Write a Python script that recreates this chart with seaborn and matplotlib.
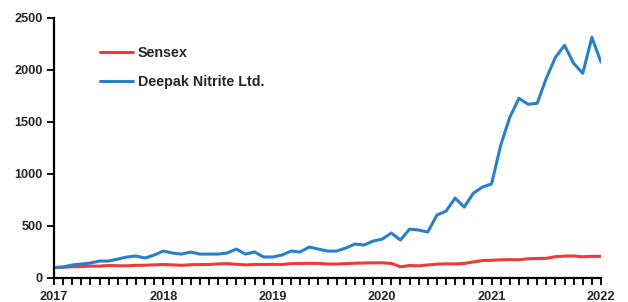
import numpy as np
import pandas as pd
import seaborn as sns
import matplotlib.pyplot as plt
from matplotlib.ticker import MultipleLocator

# monthly values, Jan 2017 .. Jan 2022 (rebased to 100)
sensex = [100, 104, 108, 110, 114, 114, 120, 118, 117, 122, 123, 126,
          130, 126, 122, 128, 129, 130, 135, 138, 132, 126, 130, 130,
          131, 130, 138, 139, 141, 140, 135, 134, 138, 142, 144, 146,
          146, 140, 108, 120, 117, 125, 133, 136, 135, 140, 155, 168,
          170, 175, 177, 175, 185, 188, 189, 205, 211, 212, 204, 208,
          208]
deepak = [100, 106, 125, 134, 144, 163, 163, 182, 202, 211, 192, 221,
          259, 240, 230, 250, 230, 230, 230, 240, 278, 230, 250, 202,
          202, 221, 259, 250, 298, 278, 259, 259, 288, 326, 317, 355,
          374, 432, 365, 470, 461, 442, 605, 643, 768, 682, 816, 874,
          905, 1277, 1546, 1728, 1670, 1680, 1920, 2122, 2237, 2064, 1968, 2314,
          2074]
years = ["2017", "2018", "2019", "2020", "2021", "2022"]
series_names = ["Sensex", "Deepak Nitrite Ltd."]

months = np.arange(len(sensex))
df = pd.DataFrame({
    "month": np.concatenate([months, months]),
    "value": sensex + deepak,
    "series": [series_names[0]] * len(sensex) + [series_names[1]] * len(deepak),
})

sns.set_style("ticks")
plt.rcParams['font.family'] = ['Liberation Sans', 'DejaVu Sans']
plt.rcParams['font.weight'] = 'bold'

fig = plt.figure(figsize=(6.28, 3.02), dpi=100)
ax = fig.add_axes([54 / 628, 24 / 302, 547 / 628, 260 / 302])

sns.lineplot(data=df, x="month", y="value", hue="series",
             palette=["#F03A3A", "#2A7FC9"], linewidth=2.2, ax=ax)

ax.set_xlim(0, 60)
ax.set_ylim(0, 2500)
ax.xaxis.set_minor_locator(MultipleLocator(1))
ax.set_xticks(range(0, 61, 12))
ax.set_xticklabels(years)
ax.yaxis.set_major_locator(MultipleLocator(500))
ax.tick_params(axis="both", which="both", direction="out", length=5,
               width=1.3, color="black", labelsize=9.2, pad=3)
ax.tick_params(axis="x", pad=4)
for lab in ax.get_xticklabels() + ax.get_yticklabels():
    lab.set_fontweight("bold")
ax.set_xlabel("")
ax.set_ylabel("")
sns.despine(ax=ax)
for s in ["left", "bottom"]:
    ax.spines[s].set_linewidth(1.6)
    ax.spines[s].set_color("black")

# legend placed in figure pixels: handle starts near x=102, first row near y=52
leg = ax.legend(loc="upper left", bbox_to_anchor=(100 / 628, 1 - 46 / 302),
                bbox_transform=fig.transFigure, frameon=False,
                borderpad=0, borderaxespad=0,
                handlelength=2.3, handletextpad=0.35, labelspacing=1.05,
                prop={"weight": "bold", "size": 10.3})

plt.savefig("out.png", dpi=100)
